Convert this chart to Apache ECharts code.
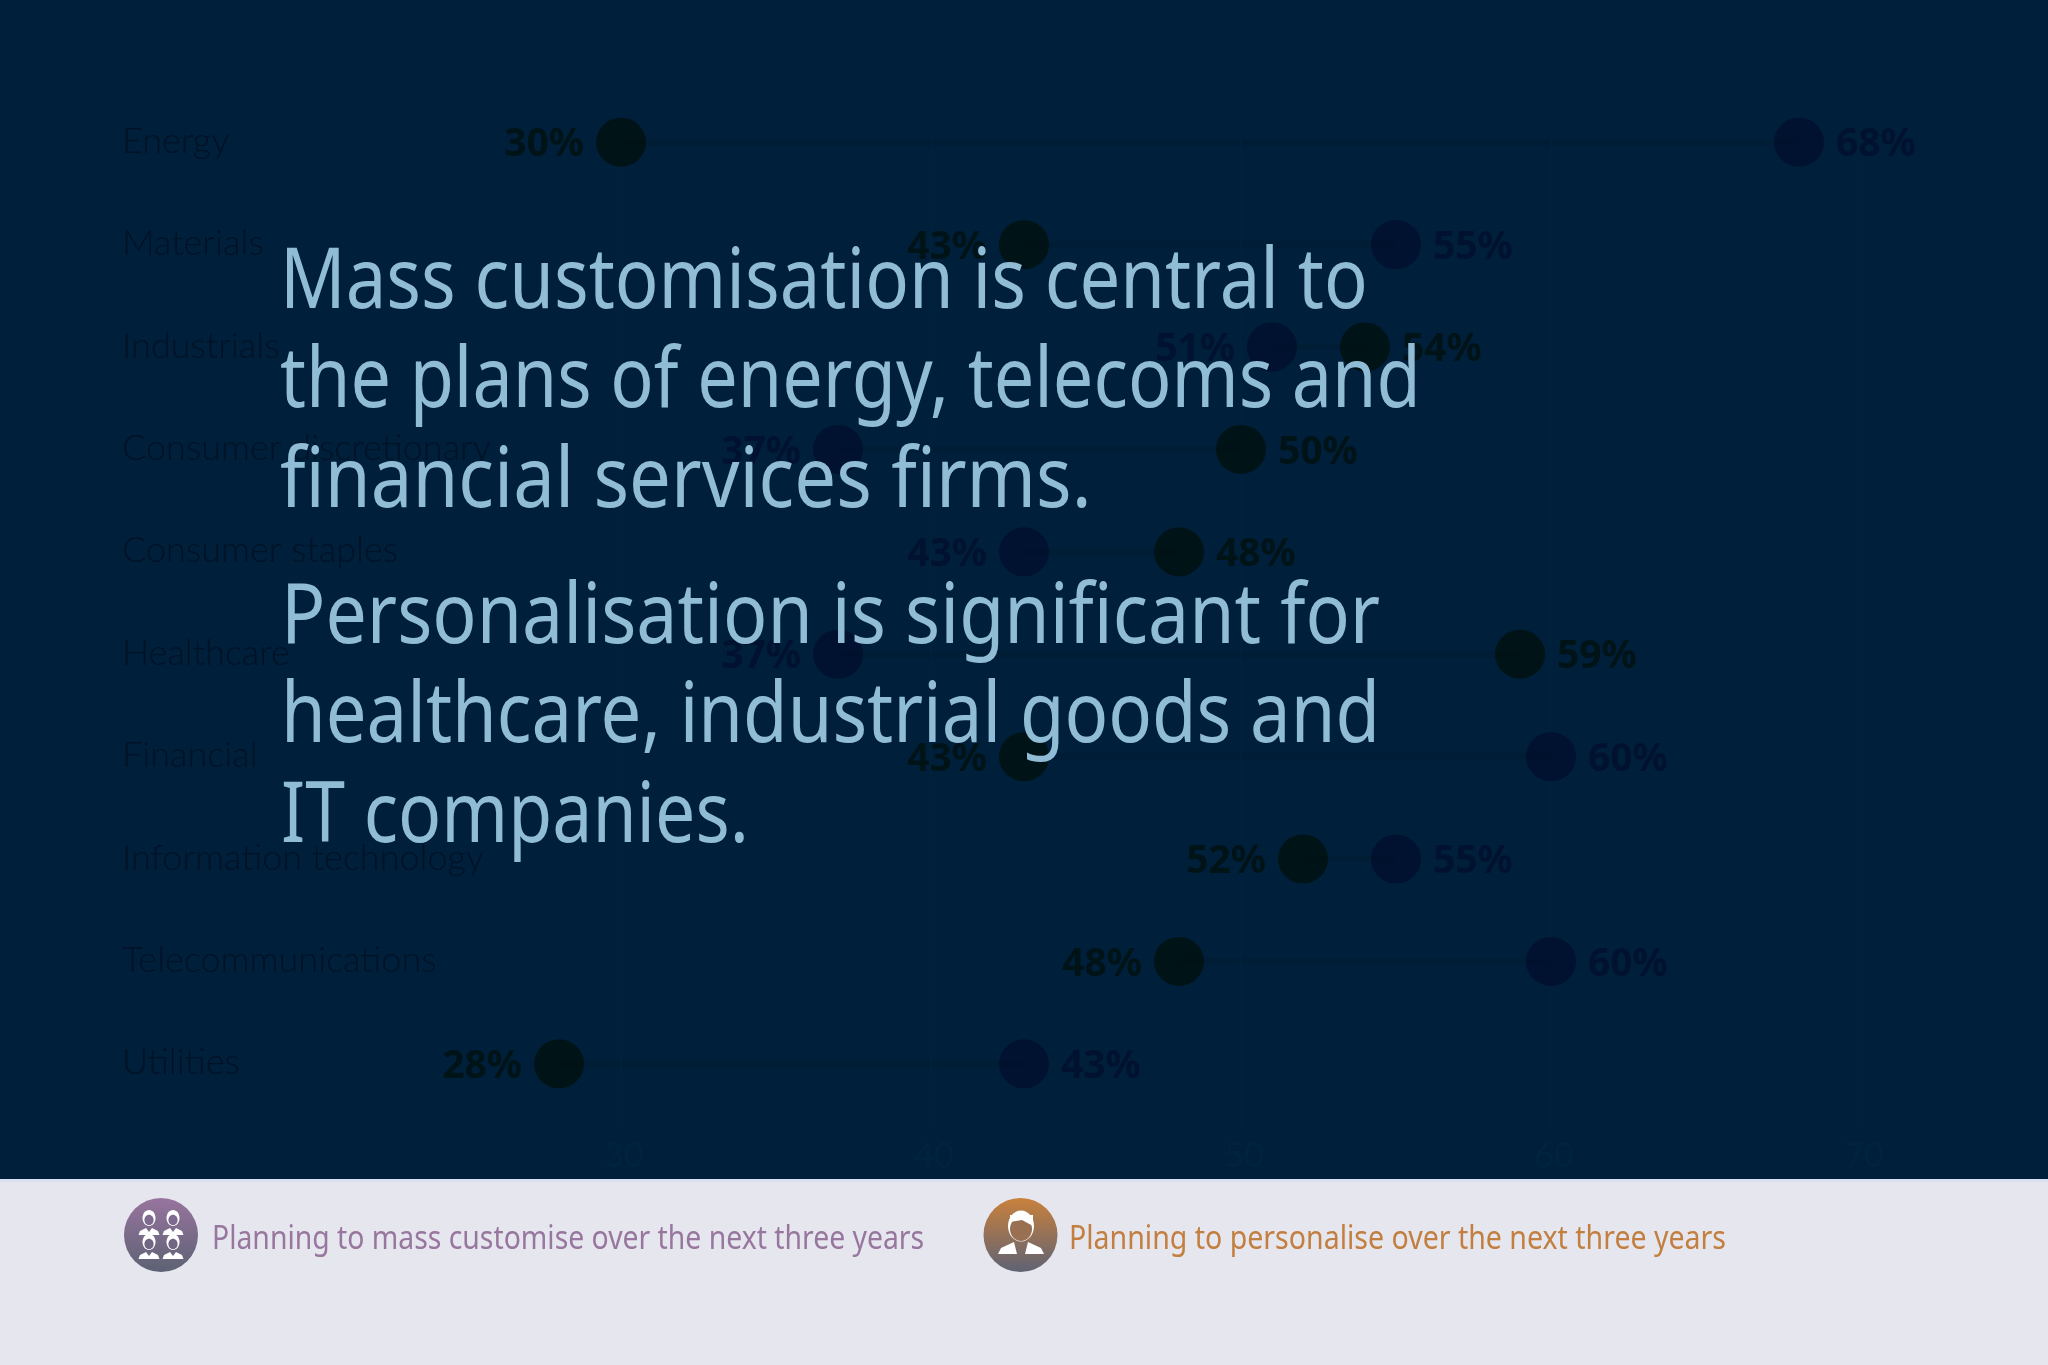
<!DOCTYPE html>
<html><head><meta charset="utf-8">
<style>html,body{margin:0;padding:0;background:#001f3a}#c{width:2048px;height:1365px}</style>
<script src="https://cdn.jsdelivr.net/npm/echarts@6/dist/echarts.min.js"></script>
</head><body><div id="c"></div>
<script>
const categories=['Energy','Materials','Industrials','Consumer discretionary','Consumer staples','Healthcare','Financial','Information technology','Telecommunications','Utilities'];
const massCustomise=[30,43,54,50,48,59,43,52,48,28];
const personalise=[68,55,51,37,43,37,60,55,60,43];
const xTicks=[30,40,50,60,70];
const headlineA=['Mass customisation is central to','the plans of energy, telecoms and','financial services firms.'];
const headlineB=['Personalisation is significant for','healthcare, industrial goods and','IT companies.'];
const legendMass='Planning to mass customise over the next three years';
const legendPers='Planning to personalise over the next three years';

const BG='#001f3a',MASS='#00100f',PERS='#000f2d',TXT='#90bcd6';
const fitA=[.862,.856,.885],fitB=[.874,.862,.852];
const chart=echarts.init(document.getElementById('c'),null,{renderer:'canvas'});
const pct=v=>v+'%';
const rows=categories.map((c,i)=>[Math.min(massCustomise[i],personalise[i]),Math.max(massCustomise[i],personalise[i]),c]);
function dotSeries(name,values,color,others){
  return {name,type:'scatter',symbolSize:[50,49],z:4,
    itemStyle:{color},
    data:values.map((v,i)=>({value:[v,categories[i]],label:{position:v<others[i]?'left':'right'}})),
    label:{show:true,formatter:p=>pct(p.value[0]),color,fontFamily:'Noto Sans',fontWeight:700,fontSize:39,distance:12,offset:[0,3]}};
}
function text(x,y,t,fs,fill,sx){
  return {type:'text',x,y,scaleX:sx,z:20,style:{text:t,fontFamily:'Noto Sans',fontSize:fs,fill,textVerticalAlign:'top'}};
}
function person(cx,cy,faceFill){
  return [
   {type:'ellipse',shape:{cx,cy,rx:6.5,ry:8},style:{fill:'#fff'},z:21},
   {type:'ellipse',shape:{cx,cy:cy+2,rx:4.6,ry:5.2},style:{fill:faceFill},z:22},
   {type:'polygon',shape:{points:[[cx-10.5,cy+17],[cx-9,cy+13],[cx-3,cy+10],[cx,cy+14],[cx+3,cy+10],[cx+9,cy+13],[cx+10.5,cy+17]]},style:{fill:'#fff'},z:21}
  ];
}
const lh=99.5;
const graphic=[
  {type:'rect',shape:{x:0,y:1179,width:2048,height:186},style:{fill:'#e6e6ef'},z:10},
  {type:'rect',shape:{x:0,y:1179,width:2048,height:3},style:{fill:'#d8e0f0'},z:11},
  {type:'circle',shape:{cx:161,cy:1235,r:37},z:20,style:{fill:new echarts.graphic.LinearGradient(0,0,0,1,[{offset:0,color:'#98749f'},{offset:1,color:'#5c6273'}])}},
  {type:'circle',shape:{cx:1020.5,cy:1235,r:37},z:20,style:{fill:new echarts.graphic.LinearGradient(0,0,0,1,[{offset:0,color:'#c9813c'},{offset:1,color:'#5f6274'}])}},
  ...person(149,1218,'#7e6a8f'),...person(173,1218,'#7e6a8f'),...person(149,1242,'#716783'),...person(173,1242,'#716783'),
  {type:'ellipse',shape:{cx:1021,cy:1226,rx:13,ry:15.5},style:{fill:'#fff'},z:21},
  {type:'ellipse',shape:{cx:1021,cy:1229,rx:11,ry:12},style:{fill:'#9a7052'},z:22},
  {type:'polygon',shape:{points:[[1010,1222],[1022,1220],[1033,1226],[1033,1215],[1010,1215]]},style:{fill:'#fff'},z:23},
  {type:'polygon',shape:{points:[[998,1254],[1001,1248],[1014,1242],[1017,1254]]},style:{fill:'#fff'},z:21},
  {type:'polygon',shape:{points:[[1044,1254],[1041,1248],[1028,1242],[1025,1254]]},style:{fill:'#fff'},z:21},
  text(212,1223,legendMass,33,'#98779f',.859),
  text(1069,1223,legendPers,33,'#c27f40',.864),
];
headlineA.forEach((t,i)=>graphic.push(text(280,242+i*lh,t,84,TXT,fitA[i])));
headlineB.forEach((t,i)=>graphic.push(text(281,577+i*lh,t,84,TXT,fitB[i])));

chart.setOption({
  animation:false,backgroundColor:BG,
  grid:{left:311,right:2048-1923,top:91,bottom:1365-1115},
  xAxis:{type:'value',min:20,max:72,interval:10,
    axisLine:{show:false},axisTick:{show:false},axisLabel:{show:false},splitLine:{show:false}},
  yAxis:{type:'category',data:categories,inverse:true,boundaryGap:true,
    axisLine:{show:false},axisTick:{show:false},splitLine:{show:false},axisLabel:{show:false}},
  graphic,
  series:[
    {type:'custom',name:'range',z:1,silent:true,clip:false,
      renderItem:(p,api)=>{
        const a=api.coord([api.value(0),p.dataIndex]),b=api.coord([api.value(1),p.dataIndex]);
        return {type:'line',shape:{x1:a[0],y1:a[1],x2:b[0],y2:b[1]},style:{stroke:'#001d36',lineWidth:6}};
      },
      encode:{x:[0,1]},data:rows},
    {type:'custom',name:'catLabels',z:3,silent:true,clip:false,
      renderItem:(p,api)=>{
        const c=api.coord([20,p.dataIndex]);
        return {type:'text',x:122,y:c[1]-1,scaleX:1,style:{text:categories[p.dataIndex],fontFamily:'Lato',fontWeight:300,fontSize:36,fill:'#001226',textAlign:'left',textVerticalAlign:'middle'}};
      },
      data:categories.map(c=>[c])},
    {type:'custom',name:'ticks',z:1,silent:true,clip:false,
      renderItem:(p,api)=>{
        const v=xTicks[p.dataIndex],c=api.coord([v,0]);
        return {type:'group',children:[
          {type:'line',shape:{x1:c[0],y1:140,x2:c[0],y2:1130},style:{stroke:'#00213c',lineWidth:2}},
          {type:'text',x:c[0]+3,y:1156,style:{text:String(v),fontFamily:'Lato',fontSize:34,fill:'#00243f',textAlign:'center',textVerticalAlign:'middle'}}
        ]};
      },
      encode:{x:0},data:xTicks.map(v=>[v])},
    dotSeries('Planning to mass customise over the next three years',massCustomise,MASS,personalise),
    dotSeries('Planning to personalise over the next three years',personalise,PERS,massCustomise),
  ]
});
</script></body></html>
